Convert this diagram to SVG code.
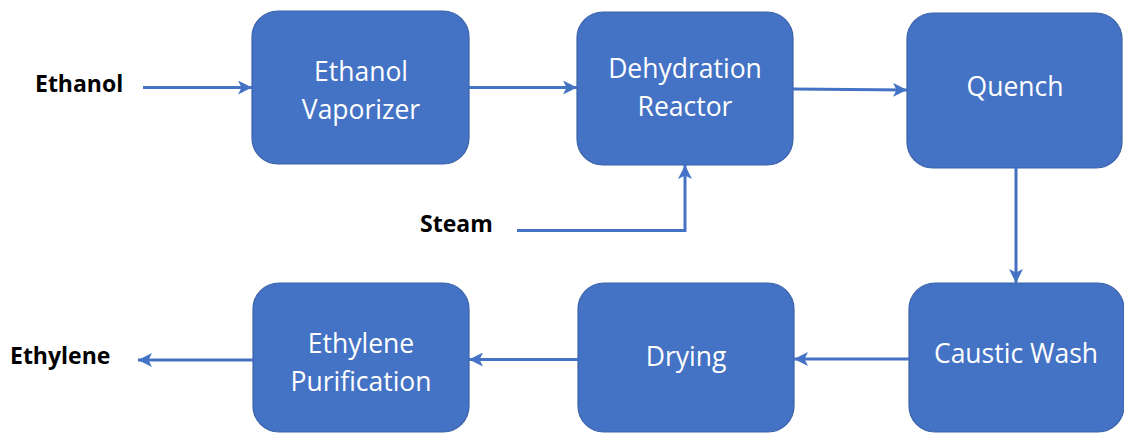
<svg xmlns="http://www.w3.org/2000/svg" width="1124" height="434" viewBox="0 0 1124 434">
<style>
.box{fill:#4472C4;stroke:#3A62A8;stroke-width:1.2}
.bt{font-family:"Open Sans","Liberation Sans",sans-serif;font-size:26.5px;fill:#FFFFFF;text-anchor:middle}
.lb{font-family:"Open Sans","Liberation Sans",sans-serif;font-size:23px;font-weight:bold;fill:#000000}
.cn{fill:none;stroke:#4472C4;stroke-width:3}
</style>
<defs>
<marker id="ah" markerUnits="userSpaceOnUse" markerWidth="14" markerHeight="14" viewBox="0 0 12 12" refX="12" refY="6" orient="auto">
<path d="M0,0 L12,6 L0,12 L3,6 z" fill="#4472C4"/>
</marker>
</defs>
<g id="label-ethanol"><text class="lb" x="35" y="92">Ethanol</text></g>
<g id="label-steam"><text class="lb" x="420" y="232">Steam</text></g>
<g id="label-ethylene"><text class="lb" x="10" y="364">Ethylene</text></g>
<g id="node-vaporizer"><rect class="box" x="252" y="11" width="217" height="153" rx="26"/><text class="bt" x="361" y="81">Ethanol</text><text class="bt" x="361" y="119">Vaporizer</text></g>
<g id="node-reactor"><rect class="box" x="577" y="12" width="216" height="153" rx="26"/><text class="bt" x="685" y="78">Dehydration</text><text class="bt" x="685" y="116">Reactor</text></g>
<g id="node-quench"><rect class="box" x="907" y="13" width="215" height="155" rx="26"/><text class="bt" x="1015" y="96">Quench</text></g>
<g id="node-caustic"><rect class="box" x="909" y="283" width="215" height="149" rx="26"/><text class="bt" x="1016" y="363">Caustic Wash</text></g>
<g id="node-drying"><rect class="box" x="578" y="283" width="216" height="149" rx="26"/><text class="bt" x="686" y="366">Drying</text></g>
<g id="node-purification"><rect class="box" x="253" y="283" width="216" height="149" rx="26"/><text class="bt" x="361" y="353">Ethylene</text><text class="bt" x="361" y="391">Purification</text></g>
<g id="connectors">
<path class="cn" d="M143,87.5 L252,87.5" marker-end="url(#ah)"/>
<path class="cn" d="M469,87.5 L577,87.5" marker-end="url(#ah)"/>
<path class="cn" d="M793,89 L907,90" marker-end="url(#ah)"/>
<path class="cn" d="M517,230.5 L685,230.5 L685,165" marker-end="url(#ah)"/>
<path class="cn" d="M1016,168 L1016,283" marker-end="url(#ah)"/>
<path class="cn" d="M909,359 L794,359" marker-end="url(#ah)"/>
<path class="cn" d="M578,359.5 L469,359.5" marker-end="url(#ah)"/>
<path class="cn" d="M253,360 L138,360" marker-end="url(#ah)"/>
</g>
</svg>
